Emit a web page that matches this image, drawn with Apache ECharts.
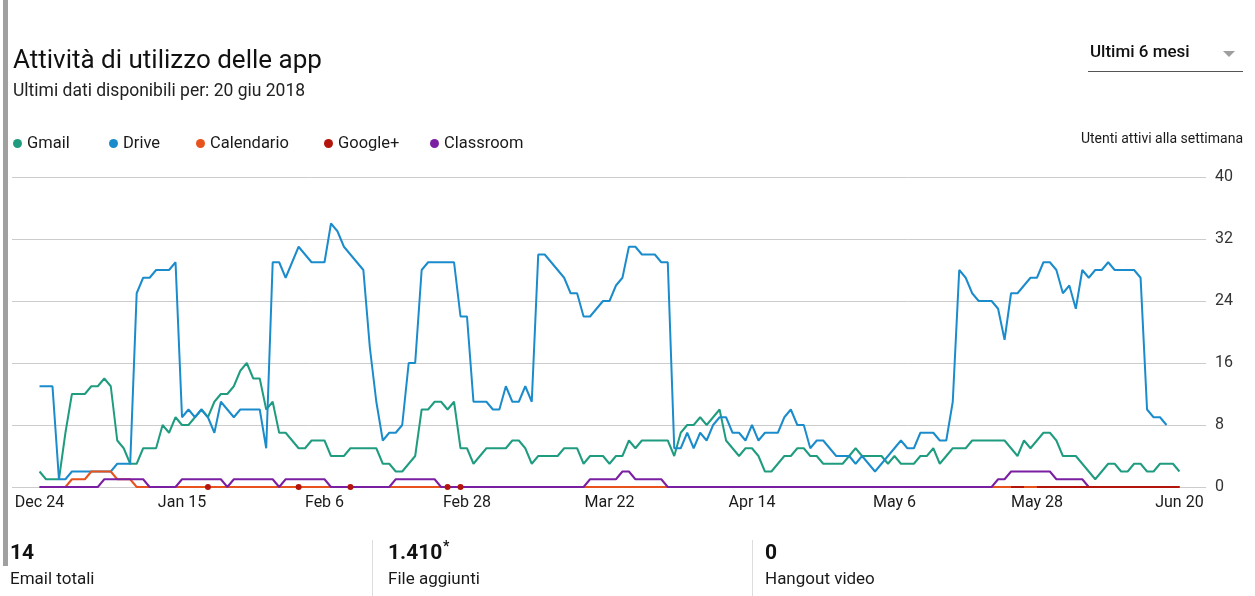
<!DOCTYPE html>
<html>
<head>
<meta charset="utf-8">
<script src="https://cdn.jsdelivr.net/npm/echarts@6/dist/echarts.min.js"></script>
<style>
html,body{margin:0;padding:0;background:#fff;}
#c{width:1255px;height:596px;}
</style>
</head>
<body>
<div id="c"></div>
<script>
// x tick labels, one every 22 daily points
const tickLabels = ['Dec 24','Jan 15','Feb 6','Feb 28','Mar 22','Apr 14','May 6','May 28','Jun 20'];
const tickStep = 22;
const yTicks = [0, 8, 16, 24, 32, 40];

const seriesNames = ['Gmail','Drive','Calendario','Google+','Classroom'];

const gmail = [
  2,1,1,1,7,12,12,12,13,13,
  14,13,6,5,3,3,5,5,5,8,
  7,9,8,8,9,10,9,11,12,12,
  13,15,16,14,14,10,11,7,7,6,
  5,5,6,6,6,4,4,4,5,5,
  5,5,5,3,3,2,2,3,4,10,
  10,11,11,10,11,5,5,3,4,5,
  5,5,5,6,6,5,3,4,4,4,
  4,5,5,5,3,4,4,4,3,4,
  4,6,5,6,6,6,6,6,4,7,
  8,8,9,8,9,10,6,5,4,5,
  5,4,2,2,3,4,4,5,5,4,
  4,3,3,3,3,4,5,4,4,4,
  4,3,4,3,3,3,4,4,5,3,
  4,5,5,5,6,6,6,6,6,6,
  5,4,6,5,6,7,7,6,4,4,
  4,3,2,1,2,3,3,2,2,3,
  3,2,2,3,3,3,2
];

const drive = [
  13,13,13,1,1,2,2,2,2,2,
  2,2,3,3,3,25,27,27,28,28,
  28,29,9,10,9,10,9,7,11,10,
  9,10,10,10,10,5,29,29,27,29,
  31,30,29,29,29,34,33,31,30,29,
  28,18,11,6,7,7,8,16,16,28,
  29,29,29,29,29,22,22,11,11,11,
  10,10,13,11,11,13,11,30,30,29,
  28,27,25,25,22,22,23,24,24,26,
  27,31,31,30,30,30,29,29,5,5,
  7,5,7,6,8,9,9,7,7,6,
  8,6,7,7,7,9,10,8,8,5,
  6,6,5,4,4,4,3,4,3,2,
  3,4,5,6,5,5,7,7,7,6,
  6,11,28,27,25,24,24,24,23,19,
  25,25,26,27,27,29,29,28,25,26,
  23,28,27,28,28,29,28,28,28,28,
  27,10,9,9,8,null,null
];

const calendario = [
  0,0,0,0,0,1,1,1,2,2,
  2,2,1,1,1,0,0,0,0,0,
  0,0,0,0,0,0,0,0,0,0,
  0,0,0,0,0,0,0,0,0,0,
  0,0,0,0,0,0,0,0,0,0,
  0,0,0,0,0,0,0,0,0,0,
  0,0,0,0,0,0,0,0,0,0,
  0,0,0,0,0,0,0,0,0,0,
  0,0,0,0,0,0,0,0,0,0,
  0,0,0,0,0,0,0,0,0,0,
  0,0,0,0,0,0,0,0,0,0,
  0,0,0,0,0,0,0,0,0,0,
  0,0,0,0,0,0,0,0,0,0,
  0,0,0,0,0,0,0,0,0,0,
  0,0,0,0,0,0,0,0,0,0,
  0,0,0,0,0,0,0,0,0,0,
  0,0,0,0,0,0,0,0,0,0,
  0,0,0,0,0,0,0
];

const googlePlus = [
  null,null,null,null,null,null,null,null,null,null,
  null,null,null,null,null,null,null,null,null,null,
  null,null,null,null,null,null,0,null,null,null,
  null,null,null,null,null,null,null,null,null,null,
  0,null,null,null,null,null,null,null,0,null,
  null,null,null,null,null,null,null,null,null,null,
  null,null,null,0,null,0,null,null,null,null,
  null,null,null,null,null,null,null,null,null,null,
  null,null,null,null,null,null,null,null,null,null,
  null,null,null,null,null,null,null,null,null,null,
  null,null,null,null,null,null,null,null,null,null,
  null,null,null,null,null,null,null,null,null,null,
  null,null,null,null,null,null,null,null,null,null,
  null,null,null,null,null,null,null,null,null,null,
  null,null,null,null,null,null,null,null,null,null,
  0,0,0,null,0,0,0,0,0,0,
  0,0,0,0,0,0,0,0,0,0,
  0,0,0,0,0,0,0
];

const classroom = [
  0,0,0,0,0,0,0,0,0,0,
  1,1,1,1,1,1,1,0,0,0,
  0,0,1,1,1,1,1,1,1,0,
  1,1,1,1,1,1,1,0,1,1,
  1,1,1,1,1,0,0,0,0,0,
  0,0,0,0,0,1,1,1,1,1,
  1,1,0,0,0,0,0,0,0,0,
  0,0,0,0,0,0,0,0,0,0,
  0,0,0,0,0,1,1,1,1,1,
  2,2,1,1,1,1,1,0,0,0,
  0,0,0,0,0,0,0,0,0,0,
  0,0,0,0,0,0,0,0,0,0,
  0,0,0,0,0,0,0,0,0,0,
  0,0,0,0,0,0,0,0,0,0,
  0,0,0,0,0,0,0,0,1,1,
  2,2,2,2,2,2,2,1,1,1,
  1,1,0,0,0,0,0,0,0,0,
  0,0,0,0,0,0,0
];

const colors = {
  Gmail: '#1f9c80',
  Drive: '#1b8ccb',
  Calendario: '#e8521c',
  'Google+': '#b3150c',
  Classroom: '#7b1fa2'
};

const toPairs = arr => arr.map((v, i) => [i, v === null ? '-' : v]);

function isolatedSize(arr) {
  return function (val, params) {
    const i = params.dataIndex;
    if (arr[i] === null) return 0;
    const prevNull = i === 0 || arr[i - 1] === null;
    const nextNull = i === arr.length - 1 || arr[i + 1] === null;
    return (prevNull && nextNull) ? 6 : 0;
  };
}

const dataMap = {
  Gmail: gmail, Drive: drive, Calendario: calendario, 'Google+': googlePlus, Classroom: classroom
};
const zMap = { Gmail: 2, Drive: 3, Calendario: 4, Classroom: 5, 'Google+': 6 };

const series = seriesNames.map(name => {
  const arr = dataMap[name];
  const s = {
    name: name,
    type: 'line',
    data: toPairs(arr),
    z: zMap[name],
    color: colors[name],
    lineStyle: { width: 2, color: colors[name] },
    itemStyle: { color: colors[name] },
    showSymbol: false,
    symbol: 'none',
    connectNulls: false,
    animation: false,
    emphasis: { disabled: true }
  };
  if (name === 'Google+') {
    s.symbol = 'circle';
    s.showSymbol = true;
    s.showAllSymbol = true;
    s.symbolSize = isolatedSize(arr);
  }
  return s;
});

const legendLefts = [8, 104, 191, 319, 425];
const legends = seriesNames.map((name, k) => ({
  data: [{ name: name, icon: 'circle' }],
  left: legendLefts[k],
  top: 130,
  itemWidth: 9,
  itemHeight: 9,
  itemGap: 5,
  selectedMode: false,
  textStyle: { fontFamily: 'Roboto', fontSize: 16.5, color: '#1a1a1a' }
}));

const tickValues = tickLabels.map((t, k) => k * tickStep);

const chart = echarts.init(document.getElementById('c'), null, { renderer: 'canvas' });
chart.setOption({
  animation: false,
  backgroundColor: '#fff',
  textStyle: { fontFamily: 'Roboto' },
  legend: legends,
  grid: { left: 12, right: 49, top: 177, bottom: 109, containLabel: false },
  xAxis: {
    type: 'value',
    min: -4.25,
    max: 180.1,
    axisLine: { show: false },
    axisTick: { show: false },
    splitLine: { show: false },
    axisLabel: {
      customValues: tickValues,
      formatter: v => tickLabels[Math.round(v / tickStep)] || '',
      fontFamily: 'Roboto',
      fontSize: 16,
      color: '#1a1a1a',
      margin: 8
    }
  },
  yAxis: {
    type: 'value',
    position: 'right',
    min: yTicks[0],
    max: yTicks[yTicks.length - 1],
    interval: 8,
    axisLine: { show: false },
    axisTick: { show: false },
    splitLine: { lineStyle: { color: '#cccccc', width: 1 } },
    axisLabel: { fontFamily: 'Roboto', fontSize: 16, color: '#333', margin: 9 }
  },
  series: series,
  graphic: [
    { type: 'rect', shape: { x: 3, y: 0, width: 5, height: 566 }, style: { fill: '#a0a0a0' }, silent: true },
    { type: 'text', x: 13, y: 61, style: { text: 'Attività di utilizzo delle app', font: '26px Roboto', fill: '#111', verticalAlign: 'middle' } },
    { type: 'text', x: 13, y: 92, style: { text: 'Ultimi dati disponibili per: 20 giu 2018', font: '17.5px Roboto', fill: '#222', verticalAlign: 'middle' } },
    { type: 'text', x: 1090, y: 53, style: { text: 'Ultimi 6 mesi', font: '500 17px Roboto', fill: '#111', verticalAlign: 'middle' } },
    { type: 'polygon', shape: { points: [[1223, 51], [1235, 51], [1229, 57]] }, style: { fill: '#9e9e9e' } },
    { type: 'line', shape: { x1: 1088, y1: 71.5, x2: 1243, y2: 71.5 }, style: { stroke: '#555', lineWidth: 1 } },
    { type: 'text', x: 1243, y: 139, style: { text: 'Utenti attivi alla settimana', font: '14px Roboto', fill: '#1a1a1a', align: 'right', verticalAlign: 'middle' } },
    { type: 'text', x: 10, y: 554, style: { text: '14', font: 'bold 21px Roboto', fill: '#111', verticalAlign: 'middle' } },
    { type: 'text', x: 10, y: 580, style: { text: 'Email totali', font: '17px Roboto', fill: '#1a1a1a', verticalAlign: 'middle' } },
    { type: 'line', shape: { x1: 372.5, y1: 540, x2: 372.5, y2: 596 }, style: { stroke: '#dddddd', lineWidth: 1 } },
    { type: 'text', x: 388, y: 554, style: { text: '1.410', font: 'bold 21px Roboto', fill: '#111', verticalAlign: 'middle' } },
    { type: 'text', x: 443, y: 547, style: { text: '*', font: 'bold 14px Roboto', fill: '#111', verticalAlign: 'middle' } },
    { type: 'text', x: 388, y: 580, style: { text: 'File aggiunti', font: '17px Roboto', fill: '#1a1a1a', verticalAlign: 'middle' } },
    { type: 'line', shape: { x1: 752.5, y1: 540, x2: 752.5, y2: 596 }, style: { stroke: '#dddddd', lineWidth: 1 } },
    { type: 'text', x: 765, y: 554, style: { text: '0', font: 'bold 21px Roboto', fill: '#111', verticalAlign: 'middle' } },
    { type: 'text', x: 765, y: 580, style: { text: 'Hangout video', font: '17px Roboto', fill: '#1a1a1a', verticalAlign: 'middle' } }
  ]
});
</script>
</body>
</html>
